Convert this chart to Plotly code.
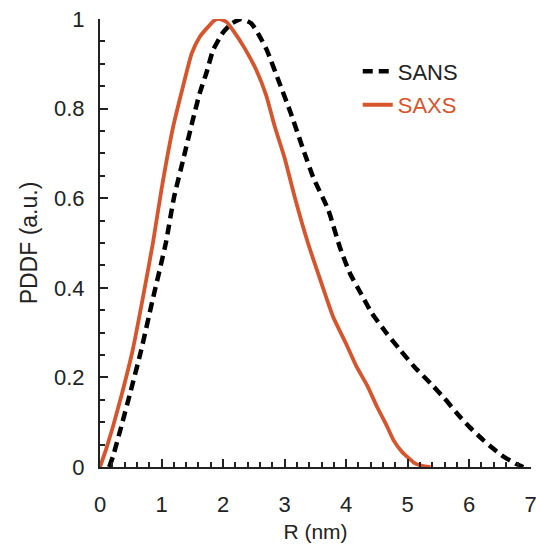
import plotly.graph_objects as go

# SAXS pair-distance distribution
saxs_r = [0, 0.1, 0.21, 0.35, 0.53, 0.7, 0.86, 1.0, 1.19, 1.35, 1.49, 1.62, 1.76, 1.86, 1.95,
          2.06, 2.16, 2.35, 2.54, 2.7, 2.84, 3.0, 3.17, 3.38, 3.6, 3.79, 4.0, 4.17, 4.35, 4.5,
          4.65, 4.77, 4.9, 4.99, 5.1, 5.2, 5.37]
saxs_p = [0, 0.04, 0.09, 0.16, 0.26, 0.38, 0.50, 0.62, 0.76, 0.85, 0.923, 0.96, 0.983, 0.997, 1.0,
          0.993, 0.975, 0.935, 0.886, 0.83, 0.76, 0.69, 0.60, 0.50, 0.41, 0.335, 0.275, 0.224, 0.18, 0.135,
          0.095, 0.06, 0.035, 0.023, 0.01, 0.004, 0.0]

# SANS pair-distance distribution
sans_r = [0.15, 0.21, 0.345, 0.5, 0.67, 0.85, 1.07, 1.2, 1.35, 1.5, 1.62, 1.73, 1.84, 2.0, 2.14,
          2.3, 2.46, 2.6, 2.71, 2.92, 3.1, 3.3, 3.47, 3.71, 3.9, 4.06, 4.25, 4.42, 4.65, 4.88,
          5.1, 5.37, 5.6, 5.8, 6.0, 6.23, 6.4, 6.56, 6.75, 6.88]
sans_p = [0, 0.023, 0.09, 0.17, 0.261, 0.37, 0.50, 0.60, 0.685, 0.77, 0.834, 0.88, 0.931, 0.97, 0.99,
          1.0, 0.99, 0.96, 0.931, 0.856, 0.79, 0.71, 0.645, 0.574, 0.49, 0.433, 0.385, 0.343, 0.3, 0.261,
          0.225, 0.187, 0.153, 0.12, 0.09, 0.06, 0.04, 0.023, 0.008, 0.0]

x_ticks = [0, 1, 2, 3, 4, 5, 6, 7]
y_ticks = [0, 0.2, 0.4, 0.6, 0.8, 1]
y_labels = ["0", "0.2", "0.4", "0.6", "0.8", "1"]

ORANGE = "#d6552d"
FONT = "Liberation Sans, Arial, sans-serif"

fig = go.Figure()
fig.add_trace(go.Scatter(
    x=sans_r, y=sans_p, mode="lines", name="SANS", legendgroup="a",
    line=dict(color="black", width=4.5, dash="10px,6px", shape="spline", smoothing=0.5),
))
fig.add_trace(go.Scatter(
    x=saxs_r, y=saxs_p, mode="lines", name=f'<span style="color:{ORANGE}">SAXS</span>', legendgroup="b",
    line=dict(color=ORANGE, width=3.8, shape="spline", smoothing=0.5),
))

fig.update_layout(
    width=536, height=545,
    margin=dict(l=100, r=5, t=19, b=78),
    paper_bgcolor="white", plot_bgcolor="white",
    font=dict(family=FONT, size=22, color="#222"),
    showlegend=True,
    legend=dict(x=0.598, y=0.93, xanchor="left", yanchor="top",
                bgcolor="rgba(0,0,0,0)", font=dict(size=22, family=FONT),
                traceorder="grouped", tracegroupgap=2, itemwidth=30),
)
fig.update_xaxes(
    range=[0, 7.005], tickvals=x_ticks, ticktext=[str(v) for v in x_ticks],
    ticklabeloverflow="allow", automargin=False,
    showgrid=False, zeroline=False, showline=True, linecolor="#222", linewidth=2,
    ticks="inside", ticklen=8, tickwidth=2, tickcolor="#222",
    minor=dict(dtick=0.2, tick0=0, ticks="inside", ticklen=5, tickwidth=1.5, tickcolor="#222"),
    ticklabelstandoff=17,
    title=dict(text="R (nm)", font=dict(size=21, family=FONT), standoff=8),
)
fig.update_yaxes(
    range=[0, 1], tickvals=y_ticks, ticktext=y_labels, automargin=False,
    showgrid=False, zeroline=False, showline=True, linecolor="#222", linewidth=2,
    ticks="inside", ticklen=8, tickwidth=2, tickcolor="#222",
    minor=dict(dtick=0.05, tick0=0, ticks="inside", ticklen=5, tickwidth=1.5, tickcolor="#222"),
    ticklabelstandoff=9,
    title=dict(text="PDDF (a.u.)", font=dict(size=23, family=FONT), standoff=10),
)

fig.write_html("out.html")
